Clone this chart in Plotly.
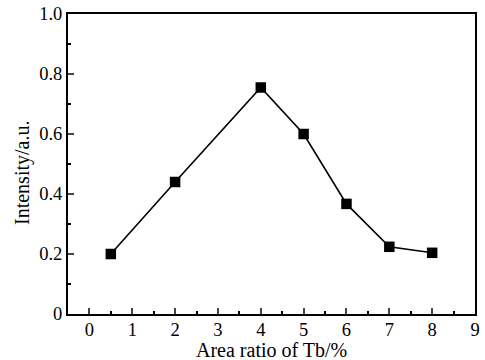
import plotly.graph_objects as go

x_vals = [0.5, 2, 4, 5, 6, 7, 8]
y_vals = [0.20, 0.44, 0.755, 0.60, 0.367, 0.224, 0.204]
y_tickvals = [0, 0.2, 0.4, 0.6, 0.8, 1.0]
y_ticktext = ["0", "0.2", "0.4", "0.6", "0.8", "1.0"]
x_tickvals = list(range(0, 10))
x_title = "Area ratio of Tb/%"
y_title = "Intensity/a.u."

tick_font = dict(family="Liberation Serif", size=18.5, color="black")
title_font = dict(family="Liberation Serif", size=20, color="black")

fig = go.Figure()
fig.add_trace(go.Scatter(
    x=x_vals, y=y_vals, mode="lines+markers",
    line=dict(color="black", width=1.6),
    marker=dict(symbol="square", size=10.5, color="black"),
    showlegend=False,
))

fig.update_layout(
    width=485, height=360,
    margin=dict(l=68, r=10, t=14, b=46),
    paper_bgcolor="white", plot_bgcolor="white",
    font=tick_font,
    annotations=[
        dict(text=x_title, xref="paper", yref="paper", x=0.5, y=0,
             xanchor="center", yanchor="middle", yshift=-36, showarrow=False, font=title_font),
        dict(text=y_title, xref="paper", yref="paper", x=0, y=0.5, textangle=-90,
             xanchor="center", yanchor="middle", xshift=-46, yshift=-9, showarrow=False, font=title_font),
    ],
)
fig.update_xaxes(
    range=[-0.5, 9], tickvals=x_tickvals, ticks="inside", ticklen=6, tickwidth=1.5,
    minor=dict(dtick=0.5, tick0=0, ticks="inside", ticklen=3, tickwidth=1.5, tickcolor="black"),
    showline=True, linecolor="black", linewidth=2, mirror=True, showgrid=False, zeroline=False,
    tickfont=tick_font, automargin=False, ticklabeloverflow="allow", ticklabelstandoff=-2,
)
fig.update_yaxes(
    range=[0, 1.0], tickvals=y_tickvals, ticktext=y_ticktext, ticks="inside", ticklen=6, tickwidth=1.5,
    minor=dict(dtick=0.1, tick0=0, ticks="inside", ticklen=3, tickwidth=1.5, tickcolor="black"),
    showline=True, linecolor="black", linewidth=2, mirror=True, showgrid=False, zeroline=False,
    tickfont=tick_font, automargin=False, ticklabeloverflow="allow",
)

fig.write_html("out.html", config={"displayModeBar": False},
               post_script="document.body.style.margin='0';")
